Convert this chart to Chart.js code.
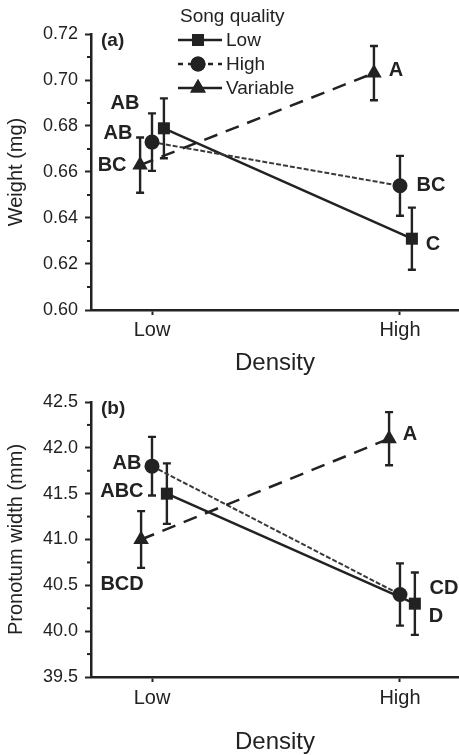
<!DOCTYPE html>
<html>
<head>
<meta charset="utf-8">
<script src="https://cdn.jsdelivr.net/npm/chart.js@4/dist/chart.umd.min.js"></script>
<style>
  html, body { margin: 0; padding: 0; background: #fff; }
  #wrap { position: relative; width: 459px; height: 755px; overflow: hidden; }
  canvas { position: absolute; left: 0; }
</style>
</head>
<body>
<div id="wrap">
  <canvas id="ca" width="459" height="375" style="top:0"></canvas>
  <canvas id="cb" width="459" height="380" style="top:375px"></canvas>
</div>
<script>
// ---------------- DATA ----------------
const categories = ['Low', 'High'];
const seriesNames = ['Low', 'High', 'Variable'];
const legendTitle = 'Song quality';

// Panel (a): Weight (mg)
const weightTicks = [0.60, 0.62, 0.64, 0.66, 0.68, 0.70, 0.72];
const weightLow = [0.679, 0.631];
const weightHigh = [0.673, 0.654];
const weightVariable = [0.663, 0.703];
const weightLowErr = [0.013, 0.0135];
const weightHighErr = [0.0125, 0.013];
const weightVariableErr = [0.012, 0.0118];
const weightLowLetters = ['AB', 'C'];
const weightHighLetters = ['AB', 'BC'];
const weightVariableLetters = ['BC', 'A'];

// Panel (b): Pronotum width (mm)
const pronotumTicks = [39.5, 40.0, 40.5, 41.0, 41.5, 42.0, 42.5];
const pronotumLow = [41.5, 40.3];
const pronotumHigh = [41.8, 40.4];
const pronotumVariable = [41.0, 42.1];
const pronotumLowErr = [0.33, 0.34];
const pronotumHighErr = [0.32, 0.34];
const pronotumVariableErr = [0.31, 0.29];
const pronotumLowLetters = ['ABC', 'D'];
const pronotumHighLetters = ['AB', 'CD'];
const pronotumVariableLetters = ['BCD', 'A'];

// ---------------- STYLE ----------------
const FONT = '"Liberation Sans", Arial, Helvetica, sans-serif';
const INK = '#222';
const seriesStyle = [
  { pointStyle: 'rect', radius: 8.5, width: 2.5, dash: [], legendDash: [], color: INK },
  { pointStyle: 'circle', radius: 7.5, width: 2, dash: [5, 2], legendDash: [5, 5], color: '#3a3a3a' },
  { pointStyle: 'triangle', radius: 9, width: 2.5, dash: [14, 9], legendDash: [], color: INK }
];

function buildPanel(canvasId, opt) {
  const ds = opt.values.map((vals, si) => ({
    label: seriesNames[si],
    data: vals.map((v, ci) => ({ x: ci + opt.xShift[si][ci], y: v })),
    showLine: true,
    borderColor: seriesStyle[si].color,
    backgroundColor: INK,
    borderWidth: seriesStyle[si].width,
    borderDash: seriesStyle[si].dash,
    pointStyle: seriesStyle[si].pointStyle,
    pointRadius: seriesStyle[si].radius,
    pointBackgroundColor: INK,
    pointBorderColor: INK,
    pointBorderWidth: 0,
    tension: 0,
    order: 3 - si
  }));

  const extras = {
    id: 'extras' + canvasId,
    beforeDatasetsDraw(chart) {
      const ctx = chart.ctx, xs = chart.scales.x, ys = chart.scales.y;
      ctx.save();
      ctx.strokeStyle = INK; ctx.lineWidth = 2.4; ctx.setLineDash([]);
      opt.values.forEach((vals, si) => {
        vals.forEach((v, ci) => {
          const e = opt.errors[si][ci];
          const px = xs.getPixelForValue(ci + opt.xShift[si][ci]);
          const t = ys.getPixelForValue(v + e), b = ys.getPixelForValue(v - e);
          ctx.beginPath();
          ctx.moveTo(px, t); ctx.lineTo(px, b);
          ctx.moveTo(px - 4, t); ctx.lineTo(px + 4, t);
          ctx.moveTo(px - 4, b); ctx.lineTo(px + 4, b);
          ctx.stroke();
        });
      });
      ctx.restore();
    },
    afterDraw(chart) {
      const ctx = chart.ctx, xs = chart.scales.x, ys = chart.scales.y;
      ctx.save();
      // minor ticks on y axis
      ctx.strokeStyle = INK; ctx.lineWidth = 2;
      const tks = opt.ticks;
      for (let i = 0; i < tks.length - 1; i++) {
        const py = ys.getPixelForValue((tks[i] + tks[i + 1]) / 2);
        ctx.beginPath();
        ctx.moveTo(chart.chartArea.left - 4, py);
        ctx.lineTo(chart.chartArea.left, py);
        ctx.stroke();
      }
      // significance letters
      ctx.fillStyle = INK;
      ctx.font = 'bold 20px ' + FONT;
      ctx.textAlign = 'center'; ctx.textBaseline = 'middle';
      opt.letters.forEach((ls, si) => {
        ls.forEach((txt, ci) => {
          const px = xs.getPixelForValue(ci + opt.xShift[si][ci]);
          const py = ys.getPixelForValue(opt.values[si][ci]);
          const off = opt.letterOffset[si][ci];
          ctx.fillText(txt, px + off[0], py + off[1]);
        });
      });
      // panel tag
      ctx.font = 'bold 19px ' + FONT;
      ctx.textAlign = 'left';
      ctx.fillText(opt.tag, chart.chartArea.left + 10, chart.chartArea.top + 7);
      // legend
      if (opt.legend) {
        ctx.font = '19px ' + FONT;
        ctx.textAlign = 'left';
        ctx.fillText(legendTitle, 180, 17);
        seriesNames.forEach((name, si) => {
          const y = 40 + si * 24;
          const st = seriesStyle[si];
          ctx.strokeStyle = INK; ctx.lineWidth = 2.5;
          ctx.setLineDash(st.legendDash);
          ctx.beginPath(); ctx.moveTo(178, y); ctx.lineTo(222, y); ctx.stroke();
          ctx.setLineDash([]);
          Chart.helpers.drawPoint(ctx, { pointStyle: st.pointStyle, radius: st.radius, borderWidth: 0 }, 198, y);
          ctx.fillStyle = INK;
          ctx.fill();
          ctx.fillText(name, 226, y + 1);
        });
      }
      ctx.restore();
    }
  };

  return new Chart(document.getElementById(canvasId), {
    type: 'scatter',
    data: { datasets: ds },
    options: {
      responsive: false,
      animation: false,
      devicePixelRatio: 1,
      layout: { autoPadding: false, padding: { top: opt.top, right: 0, left: 0, bottom: 0 } },
      plugins: { legend: { display: false }, tooltip: { enabled: false } },
      scales: {
        x: {
          type: 'linear', min: -0.246, max: 1.238,
          afterBuildTicks: s => { s.ticks = categories.map((c, i) => ({ value: i })); },
          afterFit: s => { s.height = opt.xHeight; s.paddingRight = 0; s.paddingLeft = 0; },
          ticks: { callback: v => categories[v], font: { size: 20, family: FONT }, color: INK, padding: opt.xPad, maxRotation: 0, autoSkip: false },
          grid: { drawOnChartArea: false, drawTicks: true, tickLength: 5, tickWidth: 2, color: INK },
          border: { width: 2.5, color: INK },
          title: { display: true, text: 'Density', font: { size: 24, family: FONT }, color: INK, padding: { top: 0, bottom: opt.titlePad } }
        },
        y: {
          type: 'linear', min: opt.ticks[0], max: opt.ticks[opt.ticks.length - 1],
          afterBuildTicks: s => { s.ticks = opt.ticks.map(v => ({ value: v })); },
          afterFit: s => { s.width = 91; s.paddingTop = 0; s.paddingBottom = 0; },
          ticks: { callback: v => v.toFixed(opt.decimals), font: { size: 18, family: FONT }, color: INK, padding: 7 },
          grid: { drawOnChartArea: false, drawTicks: true, tickLength: 6, tickWidth: 2, color: INK },
          border: { width: 2.5, color: INK },
          title: { display: true, text: opt.yTitle, font: { size: 20, family: FONT }, color: INK, padding: { top: 4, bottom: 0 } }
        }
      }
    },
    plugins: [extras]
  });
}

buildPanel('ca', {
  tag: '(a)', yTitle: 'Weight (mg)', ticks: weightTicks, decimals: 2, legend: true,
  top: 34, xHeight: 65, xPad: 3, titlePad: -3,
  values: [weightLow, weightHigh, weightVariable],
  errors: [weightLowErr, weightHighErr, weightVariableErr],
  letters: [weightLowLetters, weightHighLetters, weightVariableLetters],
  xShift: [[0.048, 0.048], [0, 0], [-0.048, -0.105]],
  letterOffset: [[[-39, -25], [21, 6]], [[-34, -9], [31, 0]], [[-28, 0], [22, -3]]]
});

buildPanel('cb', {
  tag: '(b)', yTitle: 'Pronotum width (mm)', ticks: pronotumTicks, decimals: 1, legend: false,
  top: 27, xHeight: 78, xPad: 4, titlePad: -2,
  values: [pronotumLow, pronotumHigh, pronotumVariable],
  errors: [pronotumLowErr, pronotumHighErr, pronotumVariableErr],
  letters: [pronotumLowLetters, pronotumHighLetters, pronotumVariableLetters],
  xShift: [[0.06, 0.06], [0, 0], [-0.044, -0.044]],
  letterOffset: [[[-45, -2], [21, 13]], [[-25, -3], [44, -6]], [[-19, 45], [21, -4]]]
});
</script>
</body>
</html>
